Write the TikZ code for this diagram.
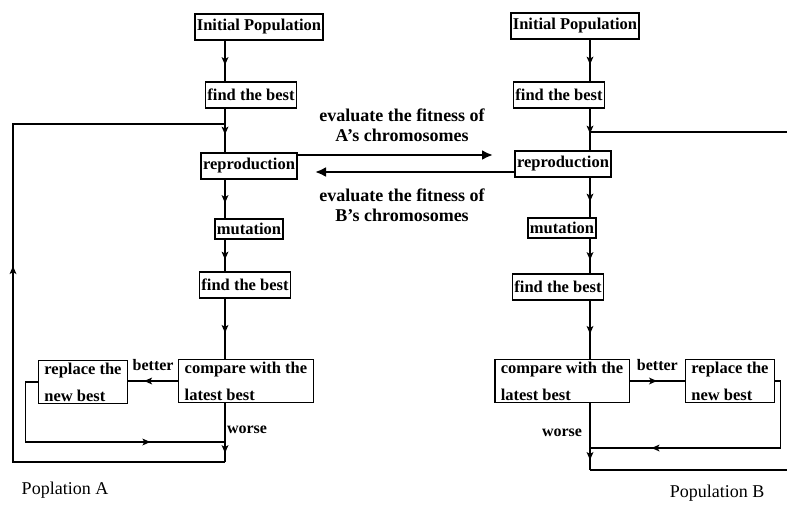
\documentclass[tikz,border=0pt]{standalone}
\usepackage{fontspec}
\setmainfont{Liberation Serif}
\usepackage{tikz}
\usetikzlibrary{arrows.meta, positioning, calc, decorations.markings}

\begin{document}
\begin{tikzpicture}[
  x=1pt, y=1pt,
  block/.style   = {draw, line width=1.5pt, inner xsep=2pt, inner ysep=1pt,
                    minimum height=26pt, font=\bfseries\fontsize{16.5}{18}\selectfont},
  twoline/.style = {block, align=left, inner xsep=6pt, inner ysep=2pt,
                    font=\bfseries\fontsize{16.5}{27}\selectfont},
  lbl/.style     = {inner sep=1pt, font=\bfseries\fontsize{16}{18}\selectfont},
  midlbl/.style  = {align=center, inner sep=1pt, font=\bfseries\fontsize{18}{20}\selectfont},
  poplbl/.style  = {inner sep=1pt, font=\fontsize{18}{20}\selectfont},
  flow/.style    = {line width=1.5pt, postaction={decorate},
                    decoration={markings, mark=at position #1 with
                      {\fill (4,0) -- (-4,3.5) -- (-2,0) -- (-4,-3.5) -- cycle;}}},
  flow/.default  = 0.5,
  arrow/.style   = {line width=2.6pt, -{Latex[length=11pt,width=10pt]}}
]
  \useasboundingbox (0,0) rectangle (787,-507);

  % column lines
  \coordinate (colA) at (225,0);
  \coordinate (colB) at (590,0);

  % Population A
  \node[block] (ipA)  at (259,-27)  {Initial Population};
  \node[block] (fbA)  at (251,-95)  {find the best};
  \node[block] (repA) at (249,-166) {reproduction};
  \node[block, minimum height=20pt] (mutA) at (249,-229) {mutation};
  \node[block] (fbbA) at (245,-285) {find the best};
  \node[twoline] (cmpA) at (246,-381) {compare with the\\latest best};
  \node[twoline] (rplA) at (83,-382)  {replace the\\new best};

  % Population B
  \node[block] (ipB)  at (575,-26)  {Initial Population};
  \node[block] (fbB)  at (559,-95)  {find the best};
  \node[block] (repB) at (563,-164) {reproduction};
  \node[block, minimum height=20pt] (mutB) at (562,-228) {mutation};
  \node[block] (fbbB) at (558,-287) {find the best};
  \node[twoline] (cmpB) at (562,-381) {compare with the\\latest best};
  \node[twoline] (rplB) at (730,-381) {replace the\\new best};

  % loop points
  \coordinate (joinA) at (225,-124);
  \coordinate (cornA) at (13,-124);
  \coordinate (innA)  at (225,-442);
  \coordinate (outA)  at (225,-462);
  \coordinate (joinB) at (590,-132);
  \coordinate (edgeB) at (787,-132);
  \coordinate (innB)  at (590,-448);
  \coordinate (outB)  at (590,-470);
  \coordinate (endB)  at (787,-470);

  % A: main flow
  \draw[flow] (ipA.south -| colA) -- (fbA.north -| colA);
  \draw[flow] (fbA.south -| colA) -- (repA.north -| colA);
  \draw[flow] (repA.south -| colA) -- (mutA.north -| colA);
  \draw[flow] (mutA.south -| colA) -- (fbbA.north -| colA);
  \draw[flow] (fbbA.south -| colA) -- (cmpA.north -| colA);
  \draw[flow=0.6] (cmpA.west) -- node[lbl, above=9pt] (btA) {better} (rplA.east |- cmpA.west);
  \draw[flow=0.71] (rplA.west) -- ++(-12,0) |- (innA);
  \draw[flow=0.78] (cmpA.south -| colA) -- (outA);
  \draw[flow=0.53] (outA) -| (cornA) -- (joinA);
  \node[lbl] (wsA) at (247,-430) {worse};

  % B: main flow
  \draw[flow] (ipB.south -| colB) -- (fbB.north -| colB);
  \draw[flow] (fbB.south -| colB) -- (repB.north -| colB);
  \draw[flow] (repB.south -| colB) -- (mutB.north -| colB);
  \draw[flow] (mutB.south -| colB) -- (fbbB.north -| colB);
  \draw[flow] (fbbB.south -| colB) -- (cmpB.north -| colB);
  \draw[flow=0.42] (cmpB.east) -- node[lbl, above=9pt] (btB) {better} (rplB.west |- cmpB.east);
  \draw[flow=0.75] (rplB.east) -- ++(5,0) |- (innB);
  \draw[flow=0.79] (cmpB.south -| colB) -- (outB);
  \draw[line width=1.5pt] (outB) -- (endB);
  \draw[line width=1.5pt] (joinB) -- (edgeB);
  \node[lbl] (wsB) at (562,-433) {worse};

  % exchange between the populations
  \coordinate (tipAB) at (493,-155);
  \coordinate (tipBA) at (315,-172);
  \draw[arrow] (repA.east |- tipAB) -- (tipAB);
  \draw[arrow] (repB.west |- tipBA) -- (tipBA);
  \node[midlbl] (evalA) at (402,-125) {evaluate the fitness of\\A's chromosomes};
  \node[midlbl] (evalB) at (402,-205) {evaluate the fitness of\\B's chromosomes};

  % population names
  \node[poplbl] (popA) at (65,-490)  {Poplation A};
  \node[poplbl] (popB) at (717,-493) {Population B};

\end{tikzpicture}
\end{document}
